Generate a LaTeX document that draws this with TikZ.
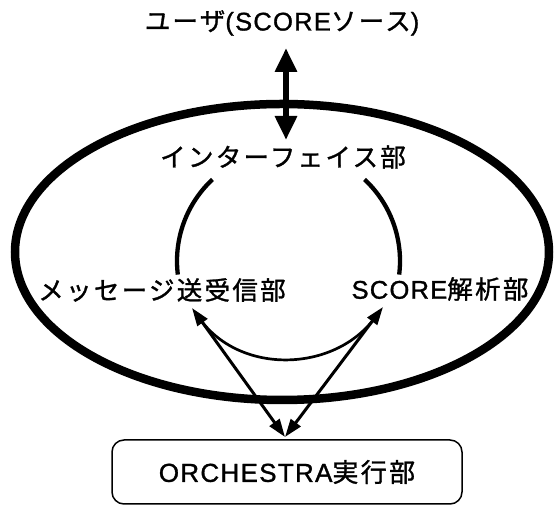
\documentclass[tikz,border=0pt]{standalone}
\usepackage{fontspec}
\setmainfont{Liberation Sans}[LetterSpace=5,FakeBold=1.2]
\newfontfamily\cjk{Noto Sans CJK JP}[LetterSpace=9,FakeBold=1.2]
\usetikzlibrary{arrows.meta,calc}
\begin{document}
\begin{tikzpicture}[x=1pt,y=1pt,
  lbl/.style={inner sep=0pt, font=\fontsize{25.5}{30}\selectfont},
  sysline/.style={line width=8.5pt},
  ringarc/.style={line width=4.3pt},
  biarrow/.style={line width=6.5pt, {Triangle[length=24pt,width=21pt]}-{Triangle[length=24pt,width=21pt]}},
  msgarrow/.style={line width=3pt, {Triangle[length=18pt,width=12pt]}-{Triangle[length=18pt,width=12pt]}},
  msgarc/.style={line width=2.7pt},
  execbox/.style={draw, rounded corners=12pt, line width=1.5pt, minimum width=350pt, minimum height=64pt, inner sep=0pt, font=\fontsize{26}{30}\selectfont}]
\useasboundingbox (0,0) rectangle (555,508);

% system ellipse
\draw[sysline] (282,256) ellipse [x radius=267, y radius=148];

% nodes
\node[lbl] (user) at (282,485) {{\cjk ユーザ}(SCORE{\cjk ソース})};
\node[lbl] (iface) at (283,351) {\cjk インターフェイス部};
\node[lbl] (msg) at (162,218) {\cjk メッセージ送受信部};
\node[lbl] (score) at (440,219) {SCORE{\cjk 解析部}};
\node[execbox] (orch) at (287,36) {ORCHESTRA{\cjk 実行部}};

% connector ends
\coordinate (uTip) at (286,460);
\coordinate (iTip) at (286,368);
\coordinate (tL) at (192,200);
\coordinate (tR) at (383,201);
\coordinate (tB) at (285,71);
\coordinate (ring) at (288.5,247);

% user <-> interface
\draw[biarrow] (uTip) -- (iTip);

% ring arcs
\draw[ringarc] ($(ring)+(133:111.5)$) arc[start angle=133, end angle=187, radius=111.5];
\draw[ringarc] ($(ring)+(47:111.5)$) arc[start angle=47, end angle=-7, radius=111.5];

% message arrows
\draw[msgarrow] (tB) -- (tL);
\draw[msgarrow] (tB) -- (tR);
\coordinate (aL) at ($(tL)!14pt!(tB)$);
\coordinate (aR) at ($(tR)!14pt!(tB)$);
\draw[msgarc] (aL) to[out=-54,in=-127] (aR);
\end{tikzpicture}
\end{document}
